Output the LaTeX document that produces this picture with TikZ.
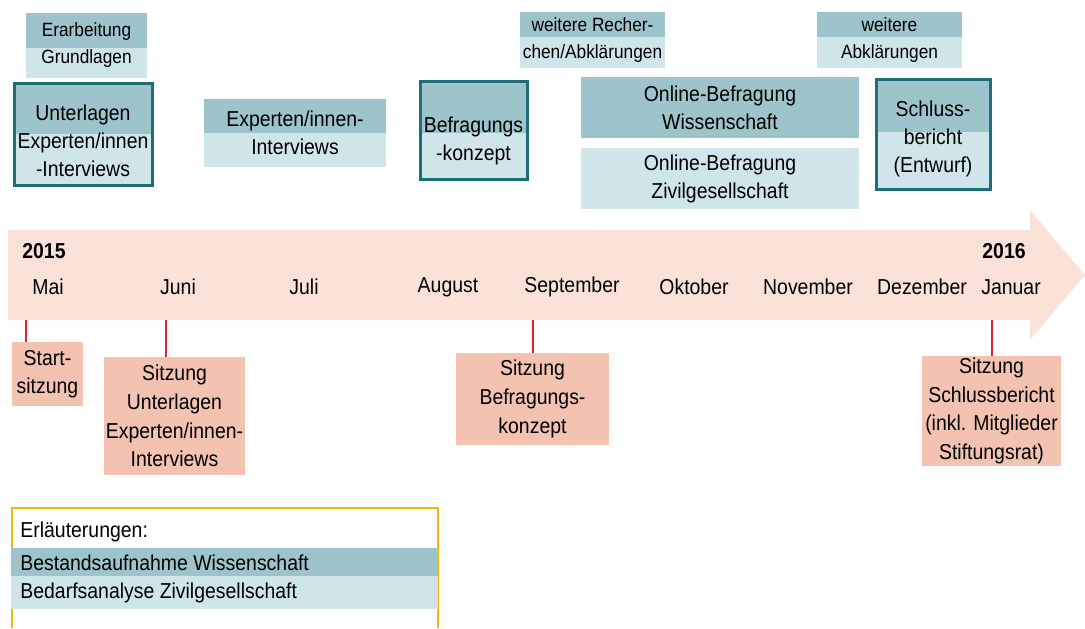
\documentclass[tikz,border=0pt]{standalone}
\usepackage{fontspec}
\setmainfont{Liberation Sans}[FakeStretch=0.9]
\usetikzlibrary{calc}
\definecolor{tealdk}{HTML}{9DC3CB}
\definecolor{teallt}{HTML}{D0E5EA}
\definecolor{tealbd}{HTML}{1D6E77}
\definecolor{arrowbg}{HTML}{FBE2D9}
\definecolor{salmon}{HTML}{F3C2B0}
\definecolor{tickred}{HTML}{E2232B}
\definecolor{legendbd}{HTML}{F2B705}
\tikzset{
  lbl/.style={font=\fontsize{10.8}{14}\selectfont, align=center, inner sep=0pt},
  small/.style={font=\fontsize{9.6}{13.5}\selectfont, align=center, inner sep=0pt},
  phase/.style={fill=teallt},
  split/.style={path picture={\fill[tealdk] (path picture bounding box.north west)
      rectangle ($(path picture bounding box.north east)!#1!(path picture bounding box.south east)$);}},
  milestone/.style={draw=tealbd, line width=1.5pt},
  meeting/.style={lbl, font=\fontsize{10.8}{14.3}\selectfont, fill=salmon},
  tick/.style={draw=tickred, line width=1pt}
}
\begin{document}
\begin{tikzpicture}[x=0.5pt, y=-0.5pt]
\useasboundingbox (0,0) rectangle (1085,628);
% timeline arrow
\fill[arrowbg] (8,230) -- (1030,230) -- (1030,210) -- (1085,275) -- (1030,340) -- (1030,320) -- (8,320) -- cycle;
\node[lbl, font=\fontsize{10.8}{14}\selectfont\bfseries] (y2015) at (44,251) {2015};
\node[lbl, font=\fontsize{10.8}{14}\selectfont\bfseries] (y2016) at (1004,251) {2016};
\foreach \m/\x in {Mai/48, Juni/178, Juli/304, August/448, September/572, Oktober/694, November/808, Dezember/922, Januar/1011}
  \node[lbl] (m-\m) at (\x,287) {\m};
% phases above the timeline
\node[phase, split=0.54, small, minimum width=60.5pt, minimum height=32.5pt] (erarb) at (86.5,45.5) {Erarbeitung\\Grundlagen};
\node[phase, split=0.5, milestone, minimum width=69pt, minimum height=51pt,
  label={[lbl, yshift=-3.2pt]center:{Unterlagen\\Experten/innen\\-Interviews}}] (unterl) at (83,134) {};
\node[phase, split=0.5, lbl, minimum width=91pt, minimum height=34pt] (expint) at (295,133) {Experten/innen-\\Interviews};
\node[phase, split=0.53, milestone, minimum width=53.5pt, minimum height=49pt,
  label={[lbl, yshift=-5.5pt]center:{Befragungs\\-konzept}}] (befrk) at (473.5,130) {};
\node[phase, split=0.45, small, minimum width=72.5pt, minimum height=28pt] (recher) at (592.5,40) {weitere Recher-\\chen/Abklärungen};
\node[lbl, fill=tealdk, minimum width=139pt, minimum height=30.5pt] (onlwiss) at (720,107.5) {Online-Befragung\\Wissenschaft};
\node[lbl, fill=teallt, minimum width=139pt, minimum height=30.5pt] (onlziv) at (720,178.5) {Online-Befragung\\Zivilgesellschaft};
\node[phase, split=0.45, small, minimum width=72.5pt, minimum height=28pt] (abkl) at (889.5,40) {weitere\\Abklärungen};
\node[phase, split=0.48, milestone, minimum width=57pt, minimum height=55pt,
  label={[lbl, yshift=-2.5pt]center:{Schluss-\\bericht\\(Entwurf)}}] (schluss) at (933,134) {};
% meetings below the timeline
\node[meeting, minimum width=35.5pt, minimum height=32pt] (start) at (47.5,374) {Start-\\sitzung};
\node[meeting, minimum width=70.5pt, minimum height=59pt] (sitzunt) at (174.5,416) {Sitzung\\Unterlagen\\Experten/innen-\\Interviews};
\node[meeting, minimum width=76.5pt, minimum height=46pt] (sitzbefr) at (532.5,399) {Sitzung\\Befragungs-\\konzept};
\node[meeting, minimum width=69.5pt, minimum height=55pt] (sitzschl) at (991.5,411) {Sitzung\\Schlussbericht\\(inkl. Mitglieder\\Stiftungsrat)};
\coordinate (tmai) at (26,320);
\coordinate (tjuni) at (166,320);
\coordinate (tsept) at (533,320);
\coordinate (tjan) at (992,320);
\draw[tick] (tmai) -- (tmai |- start.north);
\draw[tick] (tjuni) -- (tjuni |- sitzunt.north);
\draw[tick] (tsept) -- (tsept |- sitzbefr.north);
\draw[tick] (tjan) -- (tjan |- sitzschl.north);
% legend
\draw[legendbd, line width=1pt] (12,628) -- (12,508) -- (438,508) -- (438,628);
\fill[tealdk] (11,548) rectangle (438,576);
\fill[teallt] (11,576) rectangle (438,609);
\node[lbl, anchor=west] (legtitle) at (20,532) {Erläuterungen:};
\node[lbl, anchor=west] (legwiss) at (20,563) {Bestandsaufnahme Wissenschaft};
\node[lbl, anchor=west] (legziv) at (20,593) {Bedarfsanalyse Zivilgesellschaft};
\end{tikzpicture}
\end{document}
